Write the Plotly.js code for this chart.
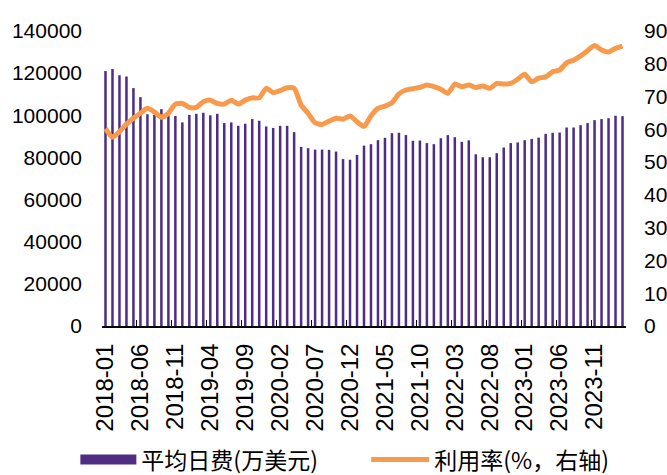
<!DOCTYPE html>
<html>
<head>
<meta charset="utf-8">
<script src="https://cdn.plot.ly/plotly-3.0.1.min.js"></script>
<style>html,body{margin:0;padding:0;background:#fff;}#chart{width:667px;height:475px;}</style>
</head>
<body>
<div id="chart"></div>
<script>
var months = [
"2018-01","2018-02","2018-03","2018-04","2018-05","2018-06","2018-07","2018-08","2018-09","2018-10","2018-11","2018-12",
"2019-01","2019-02","2019-03","2019-04","2019-05","2019-06","2019-07","2019-08","2019-09","2019-10","2019-11","2019-12",
"2020-01","2020-02","2020-03","2020-04","2020-05","2020-06","2020-07","2020-08","2020-09","2020-10","2020-11","2020-12",
"2021-01","2021-02","2021-03","2021-04","2021-05","2021-06","2021-07","2021-08","2021-09","2021-10","2021-11","2021-12",
"2022-01","2022-02","2022-03","2022-04","2022-05","2022-06","2022-07","2022-08","2022-09","2022-10","2022-11","2022-12",
"2023-01","2023-02","2023-03","2023-04","2023-05","2023-06","2023-07","2023-08","2023-09","2023-10","2023-11","2023-12",
"2024-01","2024-02","2024-03"];

var dailyRate = [
121000,122000,119000,118400,112900,108600,100500,100200,102900,99800,99700,96600,
100200,100700,101200,100000,100700,96300,96600,95000,96000,98200,97400,94700,
94000,95000,95000,92000,85000,84400,83700,83700,83600,82800,79200,78900,
81200,85600,86300,88200,89300,91500,91700,90600,87900,88000,86800,86300,
89100,90600,89600,87400,88100,81500,80100,80100,82000,84700,86800,87100,
88200,88800,89400,91200,91700,91800,94200,94200,95300,96300,97700,98200,
98600,99800,99600];

var utilization = [
60.2,57.6,59.3,61.6,63.4,64.9,66.4,65.3,63.7,64.9,67.7,67.9,
66.7,66.7,68.4,68.9,67.9,67.7,68.9,67.7,68.9,69.6,69.6,72.5,
71.2,71.8,72.7,72.5,67.4,64.9,62.0,61.5,62.5,63.4,63.1,64.1,
62.3,60.9,64.1,66.4,67.1,68.1,70.8,72.0,72.4,72.8,73.5,73.0,
72.2,71.0,73.8,73.0,73.5,72.8,73.2,72.5,74.0,73.8,74.0,75.3,
76.8,74.5,75.6,76.0,77.6,78.1,80.3,81.1,82.4,84.0,85.6,84.2,
83.6,84.7,85.4];

var barName = "平均日费(万美元)";
var lineName = "利用率(%，右轴)";

var barColor = "#4F2D84";
var lineColor = "#F79A4B";
var fontFam = "Arial, 'Liberation Sans', 'Noto Sans CJK SC', sans-serif";
var legendFont = {family: "'Noto Sans CJK SC', sans-serif", size: 23, color: "#000"};

var traces = [
  {
    type: "bar",
    x: months,
    y: dailyRate,
    name: barName,
    marker: {color: barColor},
    yaxis: "y",
    showlegend: false,
    legendgroup: "bar"
  },
  {
    // legend key only (wide filled block like the reference legend)
    type: "scatter",
    mode: "lines",
    x: [null],
    y: [null],
    name: barName,
    line: {color: barColor, width: 13},
    yaxis: "y",
    showlegend: true,
    legendgroup: "bar",
    legend: "legend"
  },
  {
    type: "scatter",
    mode: "lines",
    x: months,
    y: utilization,
    name: lineName,
    line: {color: lineColor, width: 5, shape: "spline", smoothing: 0.6},
    yaxis: "y2",
    legend: "legend2"
  }
];

var layout = {
  width: 667,
  height: 475,
  margin: {l: 102, r: 41, t: 31, b: 149, autoexpand: false},
  paper_bgcolor: "#ffffff",
  plot_bgcolor: "#ffffff",
  font: {family: fontFam, color: "#000000", size: 19},
  bargap: 0.64,
  showlegend: true,
  legend: {
    orientation: "h",
    xref: "container",
    x: 0.113, xanchor: "left",
    y: -0.38, yanchor: "top",
    font: legendFont,
    itemwidth: 56,
    bgcolor: "rgba(0,0,0,0)"
  },
  legend2: {
    orientation: "h",
    xref: "container",
    x: 0.549, xanchor: "left",
    y: -0.38, yanchor: "top",
    font: legendFont,
    itemwidth: 58,
    bgcolor: "rgba(0,0,0,0)"
  },
  xaxis: {
    type: "category",
    tickmode: "linear",
    tick0: 0,
    dtick: 5,
    tickangle: -90,
    tickson: "boundaries",
    ticks: "inside",
    ticklen: 6,
    tickcolor: "#000",
    showline: true,
    linecolor: "#000",
    linewidth: 2,
    showgrid: false,
    zeroline: false,
    automargin: false,
    ticklabelstandoff: 6,
    tickfont: {family: fontFam, size: 24, color: "#000"},
    range: [-0.5, 74.5]
  },
  yaxis: {
    range: [0, 140000],
    dtick: 20000,
    tick0: 0,
    tickformat: "d",
    exponentformat: "none",
    showgrid: false,
    zeroline: false,
    showline: false,
    ticks: "",
    automargin: false,
    ticklabelstandoff: 19,
    tickfont: {family: fontFam, size: 21, color: "#000"}
  },
  yaxis2: {
    overlaying: "y",
    side: "right",
    range: [0, 90],
    dtick: 10,
    tick0: 0,
    showgrid: false,
    zeroline: false,
    showline: false,
    ticks: "",
    automargin: false,
    ticklabelstandoff: 17,
    tickfont: {family: fontFam, size: 21, color: "#000"}
  }
};

Plotly.newPlot("chart", traces, layout, {displayModeBar: false, staticPlot: true});
</script>
</body>
</html>
